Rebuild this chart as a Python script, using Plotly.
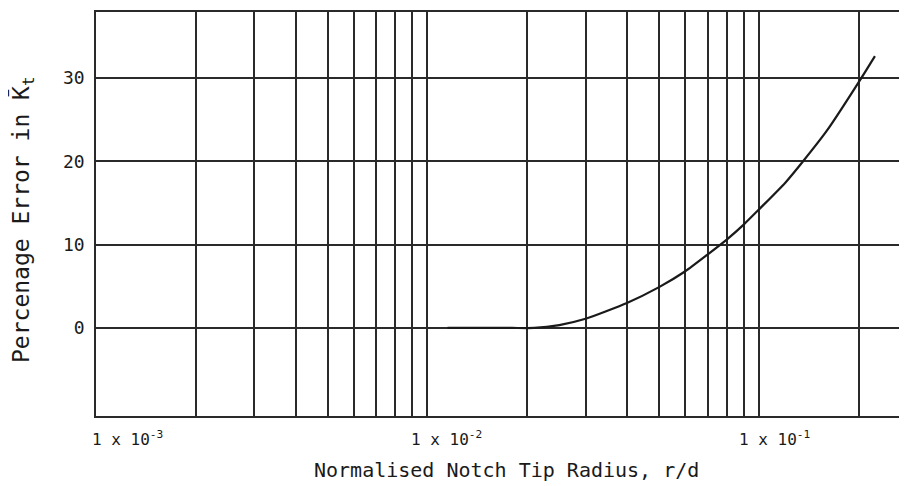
import plotly.graph_objects as go
import numpy as np

# Data
radius = [0.0115, 0.018, 0.021, 0.025, 0.03, 0.04, 0.05, 0.06, 0.07,
          0.08, 0.09, 0.1, 0.12, 0.136, 0.16, 0.204, 0.224]
error_pct = [0, 0, 0, 0.35, 1.1, 3.0, 4.9, 6.8, 8.8,
             10.6, 12.4, 14.2, 17.4, 20.0, 23.6, 30.0, 32.6]

grid_x = [m * 10.0 ** e for e in (-3, -2, -1) for m in range(1, 10)]
grid_x = [v for v in grid_x if v <= 0.25]
y_ticks = [0, 10, 20, 30]
y_tick_labels = ["0", "10", "20", "30"]
x_label_vals = [1e-3, 1e-2, 1e-1]
x_label_text = ["1 x 10<sup>-3</sup>", "1 x 10<sup>-2</sup>", "1 x 10<sup>-1</sup>"]

FONT = "DejaVu Sans Mono"
INK = "#1a1a1a"
GRID = "#2a2a2a"

# page body has an 8px margin; size/margins compensate so the plot sits where the reference's does
W, H = 899, 478
ML, MT, MB, MR = 88, 4, 70, 0
PW, PH = W - ML - MR, H - MT - MB

fig = go.Figure()
fig.add_trace(go.Scatter(
    x=radius, y=error_pct, mode="lines",
    line=dict(color=INK, width=2.2, shape="spline", smoothing=0.5),
    showlegend=False, hoverinfo="skip",
))

fig.update_xaxes(
    type="log", range=[-3, -0.553],
    tickvals=grid_x, showticklabels=False, ticks="",
    showgrid=True, gridcolor=GRID, gridwidth=1.6,
    showline=True, linecolor=GRID, linewidth=1.6, mirror=True,
    zeroline=False,
)
fig.update_yaxes(
    range=[-10.56, 37.9],
    tickvals=y_ticks, ticktext=y_tick_labels, ticks="",
    tickfont=dict(family=FONT, size=18, color=INK),
    showgrid=True, gridcolor=GRID, gridwidth=1.6,
    showline=True, linecolor=GRID, linewidth=1.6,
    zeroline=False, ticklabelstandoff=6,
)

for v, t, xs in zip(x_label_vals, x_label_text, [31, 19, 16]):
    fig.add_annotation(
        x=np.log10(v), y=0, xref="x", yref="paper", yanchor="top",
        text=t, showarrow=False, xshift=xs, yshift=-10,
        font=dict(family=FONT, size=16, color=INK),
    )

fig.add_annotation(
    x=(507 - 96) / PW, y=0, xref="paper", yref="paper", xanchor="center", yanchor="top",
    yshift=-40, showarrow=False,
    text="Normalised Notch Tip Radius, r/d",
    font=dict(family=FONT, size=20, color=INK),
)
fig.add_annotation(
    x=(22 - 96) / PW, y=(416 - 220) / PH, xref="paper", yref="paper",
    xanchor="center", yanchor="middle",
    textangle=-90, showarrow=False,
    text="Percenage Error in K\u0304<sub>t</sub>",
    font=dict(family=FONT, size=23, color=INK),
)

fig.update_layout(
    width=W, height=H,
    margin=dict(l=ML, r=MR, t=MT, b=MB),
    plot_bgcolor="white", paper_bgcolor="white",
)

fig.write_html("out.html")
